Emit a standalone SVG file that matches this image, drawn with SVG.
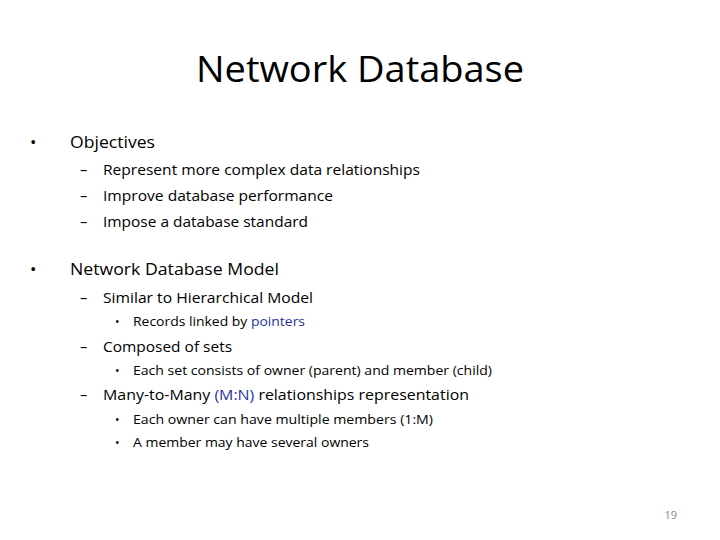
<svg xmlns="http://www.w3.org/2000/svg" width="720" height="540" viewBox="0 0 720 540">
<style>
text{font-family:"Open Sans","Liberation Sans",sans-serif;fill:#000}
.l1{font-size:17px}.l2{font-size:14.5px}.l3{font-size:12px}
.b{fill:#1f3399}
</style>
<rect width="720" height="540" fill="#fff"/>
<g id="title"><text x="360" y="82" font-size="37" text-anchor="middle" textLength="328" lengthAdjust="spacingAndGlyphs">Network Database</text></g>
<g id="body">
<text class="l1" x="30" y="148">•</text><text class="l1" x="70" y="148" textLength="85" lengthAdjust="spacingAndGlyphs">Objectives</text>
<text class="l2" x="80" y="175">–</text><text class="l2" x="103" y="175" textLength="317" lengthAdjust="spacingAndGlyphs">Represent more complex data relationships</text>
<text class="l2" x="80" y="201">–</text><text class="l2" x="103" y="201" textLength="230" lengthAdjust="spacingAndGlyphs">Improve database performance</text>
<text class="l2" x="80" y="227">–</text><text class="l2" x="103" y="227" textLength="205" lengthAdjust="spacingAndGlyphs">Impose a database standard</text>
<text class="l1" x="30" y="275">•</text><text class="l1" x="70" y="275" textLength="209" lengthAdjust="spacingAndGlyphs">Network Database Model</text>
<text class="l2" x="80" y="303">–</text><text class="l2" x="103" y="303" textLength="210" lengthAdjust="spacingAndGlyphs">Similar to Hierarchical Model</text>
<text class="l3" x="115" y="326">•</text><text class="l3" x="133" y="326" textLength="172" lengthAdjust="spacingAndGlyphs">Records linked by <tspan class="b">pointers</tspan></text>
<text class="l2" x="80" y="352">–</text><text class="l2" x="103" y="352" textLength="129" lengthAdjust="spacingAndGlyphs">Composed of sets</text>
<text class="l3" x="115" y="375">•</text><text class="l3" x="133" y="375" textLength="359" lengthAdjust="spacingAndGlyphs">Each set consists of owner (parent) and member (child)</text>
<text class="l2" x="80" y="400">–</text><text class="l2" x="103" y="400" textLength="366" lengthAdjust="spacingAndGlyphs">Many-to-Many <tspan class="b">(M:N)</tspan> relationships representation</text>
<text class="l3" x="115" y="424">•</text><text class="l3" x="133" y="424" textLength="300" lengthAdjust="spacingAndGlyphs">Each owner can have multiple members (1:M)</text>
<text class="l3" x="115" y="447">•</text><text class="l3" x="133" y="447" textLength="236" lengthAdjust="spacingAndGlyphs">A member may have several owners</text>
</g>
<g id="page"><text x="677" y="519" font-size="11" text-anchor="end" style="fill:#888">19</text></g>
</svg>
